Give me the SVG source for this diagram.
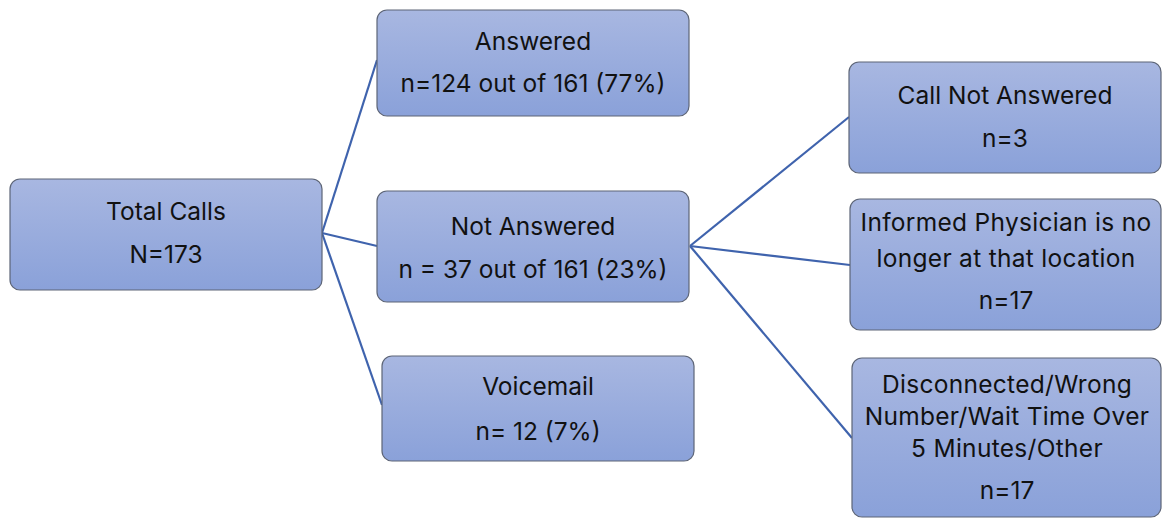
<svg xmlns="http://www.w3.org/2000/svg" width="1162" height="519" viewBox="0 0 1162 519">
<defs>
<linearGradient id="g" x1="0" y1="0" x2="0" y2="1">
<stop offset="0" stop-color="#a8b7e1"/>
<stop offset="1" stop-color="#8aa1d9"/>
</linearGradient>
</defs>
<style>
.box{fill:url(#g);stroke:#5d6577;stroke-width:1.2}
.t{font-family:Inter,"Noto Sans",sans-serif;font-size:24.5px;fill:#111;text-anchor:middle}
.c{stroke:#3f63ad;stroke-width:2.2;fill:none}
</style>
<rect width="1162" height="519" fill="#fff"/>
<g id="connectors">
<line class="c" x1="322" y1="233" x2="377" y2="60"/>
<line class="c" x1="322" y1="233" x2="377" y2="246"/>
<line class="c" x1="322" y1="233" x2="382" y2="405"/>
<line class="c" x1="690" y1="246" x2="849" y2="117"/>
<line class="c" x1="690" y1="246" x2="850" y2="265"/>
<line class="c" x1="690" y1="246" x2="852" y2="438"/>
</g>
<g id="total">
<rect class="box" x="10" y="179" width="312" height="111" rx="10"/>
<text class="t" x="166" y="220">Total Calls</text>
<text class="t" x="166" y="263">N=173</text>
</g>
<g id="answered">
<rect class="box" x="377" y="10" width="312" height="106" rx="10"/>
<text class="t" x="533" y="50">Answered</text>
<text class="t" x="533" y="92">n=124 out of 161 (77%)</text>
</g>
<g id="notanswered">
<rect class="box" x="377" y="191" width="312" height="111" rx="10"/>
<text class="t" x="533" y="235">Not Answered</text>
<text class="t" x="533" y="278">n = 37 out of 161 (23%)</text>
</g>
<g id="voicemail">
<rect class="box" x="382" y="356" width="312" height="105" rx="10"/>
<text class="t" x="538" y="395">Voicemail</text>
<text class="t" x="538" y="440">n= 12 (7%)</text>
</g>
<g id="callnot">
<rect class="box" x="849" y="62" width="312" height="111" rx="10"/>
<text class="t" x="1005" y="104">Call Not Answered</text>
<text class="t" x="1005" y="147">n=3</text>
</g>
<g id="informed">
<rect class="box" x="850" y="199" width="311" height="131" rx="10"/>
<text class="t" x="1006" y="231" letter-spacing="0.3">Informed Physician is no</text>
<text class="t" x="1006" y="267" letter-spacing="0.3">longer at that location</text>
<text class="t" x="1006" y="309">n=17</text>
</g>
<g id="disconnected">
<rect class="box" x="852" y="358" width="309" height="159" rx="10"/>
<text class="t" x="1007" y="393" letter-spacing="0.3">Disconnected/Wrong</text>
<text class="t" x="1007" y="425" letter-spacing="0.3">Number/Wait Time Over</text>
<text class="t" x="1007" y="457" letter-spacing="0.3">5 Minutes/Other</text>
<text class="t" x="1007" y="499">n=17</text>
</g>
</svg>
